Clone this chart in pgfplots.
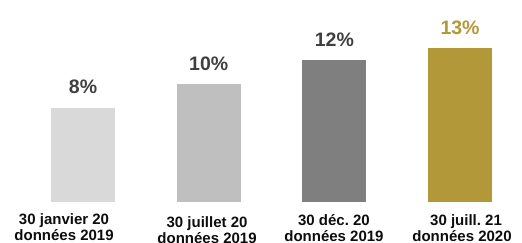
\documentclass[border=0pt]{standalone}
\usepackage{pgfplots}
\pgfplotsset{compat=1.18}
\usepackage{fontspec}
\setmainfont{Liberation Sans}
\definecolor{bA}{HTML}{D9D9D9}
\definecolor{bB}{HTML}{BFBFBF}
\definecolor{bC}{HTML}{7F7F7F}
\definecolor{gold}{HTML}{B3983A}
\definecolor{lab}{HTML}{404040}
\definecolor{cat}{HTML}{0D0D0D}
\begin{document}
\begin{tikzpicture}
\useasboundingbox (0,0) rectangle (522pt,243pt);
\begin{axis}[
  at={(0,0)}, anchor=south west,
  scale only axis, width=522pt, height=243pt,
  xmin=-0.6605, xmax=3.4933, ymin=-3.418, ymax=17.089,
  hide axis, clip=false,
  ybar, bar width=64pt,
  /pgf/number format/assume math mode=true,
  nodes near coords={\pgfmathprintnumber[fixed,precision=0,assume math mode=true]{\pgfplotspointmeta}\%},
  every node near coord/.append style={inner sep=0pt, yshift=13.5pt,
     font=\fontsize{19.5}{23}\selectfont\bfseries},
]
\addplot[draw=none, fill=bA, bar shift=0pt, every node near coord/.append style={text=lab}] coordinates {(0,8)};
\addplot[draw=none, fill=bB, bar shift=0pt, every node near coord/.append style={text=lab}] coordinates {(1,10)};
\addplot[draw=none, fill=bC, bar shift=0pt, every node near coord/.append style={text=lab}] coordinates {(2,12)};
\addplot[draw=none, fill=gold, bar shift=0pt, every node near coord/.append style={text=gold}] coordinates {(3,13)};
\begin{scope}[every node/.style={anchor=base, inner sep=0pt, text=cat, font=\fontsize{15}{18}\selectfont\bfseries}]
\node at (axis cs:-0.151,0) [yshift=-21.8pt] {30 janvier 20};
\node at (axis cs:-0.151,0) [yshift=-38.3pt] {données 2019};
\node at (axis cs:0.987,0) [yshift=-25.2pt] {30 juillet 20};
\node at (axis cs:0.987,0) [yshift=-40.8pt] {données 2019};
\node at (axis cs:1.997,0) [yshift=-23.2pt] {30 déc.\ 20};
\node at (axis cs:1.997,0) [yshift=-38.6pt] {données 2019};
\node at (axis cs:3.048,0) [yshift=-23.5pt] {30 juill.\ 21};
\node at (axis cs:3.016,0) [yshift=-38.8pt] {données 2020};
\end{scope}
\end{axis}
\end{tikzpicture}
\end{document}
